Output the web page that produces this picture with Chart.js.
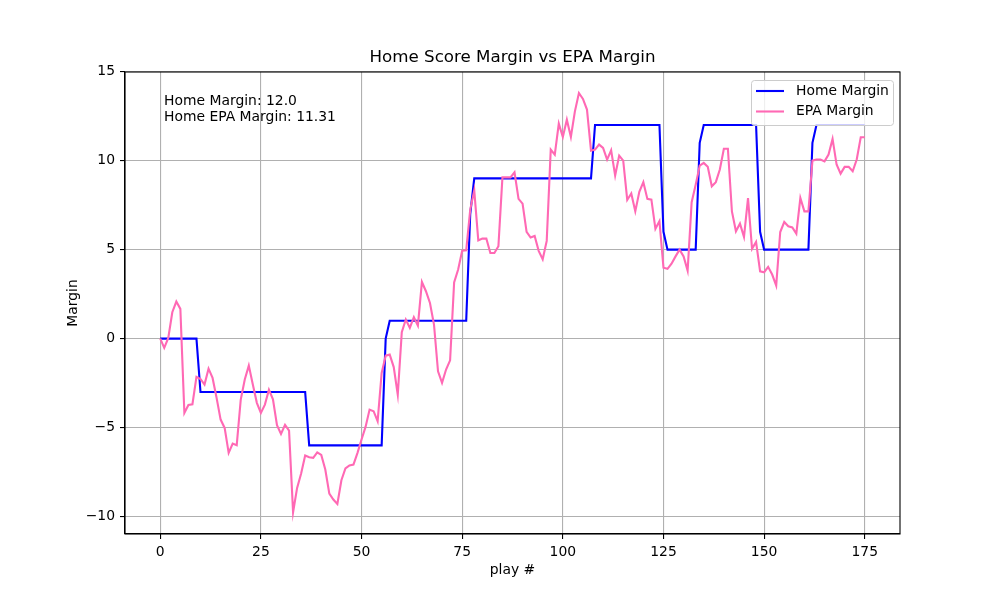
<!DOCTYPE html>
<html>
<head>
<meta charset="utf-8">
<script src="https://cdn.jsdelivr.net/npm/chart.js@4"></script>
<style>
  html, body { margin: 0; padding: 0; background: #fff; }
  #wrap { width: 1000px; height: 600px; }
</style>
</head>
<body>
<div id="wrap"><canvas id="chart" width="1000" height="600"></canvas></div>
<script>
// home score margin after each play
const homeMargin = [
  0, 0, 0, 0, 0, 0, 0, 0, 0, 0,
  -3, -3, -3, -3, -3, -3, -3, -3, -3, -3, -3, -3, -3, -3, -3, -3, -3, -3, -3, -3, -3, -3, -3, -3, -3, -3, -3,
  -6, -6, -6, -6, -6, -6, -6, -6, -6, -6, -6, -6, -6, -6, -6, -6, -6, -6, -6,
  0,
  1, 1, 1, 1, 1, 1, 1, 1, 1, 1, 1, 1, 1, 1, 1, 1, 1, 1, 1, 1,
  7,
  9, 9, 9, 9, 9, 9, 9, 9, 9, 9, 9, 9, 9, 9, 9, 9, 9, 9, 9, 9, 9, 9, 9, 9, 9, 9, 9, 9, 9, 9,
  12, 12, 12, 12, 12, 12, 12, 12, 12, 12, 12, 12, 12, 12, 12, 12, 12,
  6,
  5, 5, 5, 5, 5, 5, 5, 5,
  11,
  12, 12, 12, 12, 12, 12, 12, 12, 12, 12, 12, 12, 12, 12,
  6,
  5, 5, 5, 5, 5, 5, 5, 5, 5, 5, 5, 5,
  11,
  12, 12, 12, 12, 12, 12, 12, 12, 12, 12, 12, 12, 12
];

// cumulative EPA margin after each play
const epaMargin = [
  0, -0.52, 0.04, 1.48, 2.08, 1.67, -4.18, -3.73, -3.69, -2.15,
  -2.27, -2.58, -1.69, -2.21, -3.33, -4.55, -5.02, -6.42, -5.9, -5.99,
  -3.43, -2.3, -1.52, -2.58, -3.61, -4.18, -3.71, -2.87, -3.41, -4.86,
  -5.36, -4.85, -5.17, -9.76, -8.39, -7.58, -6.57, -6.67, -6.7, -6.39,
  -6.54, -7.36, -8.71, -9.04, -9.29, -7.96, -7.3, -7.13, -7.08, -6.42,
  -5.67, -4.96, -3.99, -4.08, -4.64, -1.93, -0.96, -0.9, -1.6, -3.15,
  0.36, 1.07, 0.6, 1.2, 0.73, 3.18, 2.66, 2.0, 0.79, -1.84,
  -2.49, -1.74, -1.22, 3.16, 3.88, 4.94, 4.96, 7.25, 8.33, 5.52,
  5.62, 5.62, 4.81, 4.81, 5.19, 9.06, 9.06, 9.06, 9.34, 7.85,
  7.58, 6.0, 5.68, 5.77, 4.93, 4.46, 5.49, 10.62, 10.34, 12.08,
  11.33, 12.3, 11.33, 12.77, 13.8, 13.47, 12.87, 10.56, 10.62, 10.9,
  10.71, 10.06, 10.58, 9.16, 10.28, 10.0, 7.79, 8.15, 7.15, 8.25,
  8.79, 7.85, 7.81, 6.17, 6.6, 3.98, 3.92, 4.21, 4.62, 5.0,
  4.62, 3.82, 7.66, 8.65, 9.72, 9.87, 9.65, 8.56, 8.79, 9.5,
  10.67, 10.67, 7.15, 6.03, 6.46, 5.71, 7.9, 5.04, 5.43, 3.78,
  3.73, 4.03, 3.6, 2.98, 5.99, 6.55, 6.31, 6.25, 5.9, 7.9,
  7.15, 7.15, 10.0, 10.06, 10.06, 9.96, 10.34, 11.22, 9.78, 9.27,
  9.65, 9.65, 9.4, 10.06, 11.31, 11.31
];

const xTicks = [0, 25, 50, 75, 100, 125, 150, 175];
const yTicks = [-10, -5, 0, 5, 10, 15];

const plays = homeMargin.map((_, i) => i);

const FONT = "'DejaVu Sans', sans-serif";

// title, annotation text, legend and top/right spines (matplotlib look)
const extras = {
  id: 'extras',
  afterDraw(chart) {
    const ctx = chart.ctx;
    const a = chart.chartArea;
    ctx.save();
    ctx.strokeStyle = '#000';
    ctx.lineWidth = 1.1;
    ctx.strokeRect(a.left, a.top, a.right - a.left, a.bottom - a.top);

    ctx.fillStyle = '#000';
    ctx.font = '16.7px ' + FONT;
    ctx.textAlign = 'center';
    ctx.textBaseline = 'middle';
    ctx.fillText('Home Score Margin vs EPA Margin', (a.left + a.right) / 2, 58);

    ctx.font = '13.9px ' + FONT;
    ctx.textAlign = 'left';
    ctx.fillText('Home Margin: ' + homeMargin[homeMargin.length - 1].toFixed(1), 164, 101);
    ctx.fillText('Home EPA Margin: ' + epaMargin[epaMargin.length - 1].toFixed(2), 164, 117);

    // legend
    ctx.fillStyle = 'rgba(255,255,255,0.8)';
    ctx.strokeStyle = '#cccccc';
    ctx.lineWidth = 1;
    ctx.beginPath();
    ctx.roundRect(751.5, 80.5, 142, 45, 3);
    ctx.fill();
    ctx.stroke();
    const items = [['Home Margin', '#0000ff', 91], ['EPA Margin', '#ff69b4', 111.5]];
    items.forEach(([label, color, y]) => {
      ctx.strokeStyle = color;
      ctx.lineWidth = 2.1;
      ctx.beginPath();
      ctx.moveTo(756, y);
      ctx.lineTo(784, y);
      ctx.stroke();
      ctx.fillStyle = '#000';
      ctx.fillText(label, 796, y);
    });
    ctx.restore();
  }
};

new Chart(document.getElementById('chart'), {
  type: 'line',
  data: {
    labels: plays,
    datasets: [
      {
        label: 'Home Margin',
        data: homeMargin,
        borderColor: '#0000ff',
        borderWidth: 2.1,
        pointRadius: 0,
        tension: 0,
        order: 1
      },
      {
        label: 'EPA Margin',
        data: epaMargin,
        borderColor: '#ff69b4',
        borderWidth: 2.1,
        pointRadius: 0,
        tension: 0,
        order: 0
      }
    ]
  },
  options: {
    responsive: false,
    animation: false,
    layout: { padding: { left: 0, right: 100, top: 72, bottom: 0 } },
    plugins: {
      legend: { display: false },
      tooltip: { enabled: false },
      title: { display: false }
    },
    scales: {
      x: {
        type: 'linear',
        min: -8.75,
        max: 183.75,
        afterBuildTicks: (s) => { s.ticks = xTicks.map(v => ({ value: v })); },
        afterFit: (s) => { s.height = 66; },
        grid: { color: '#b0b0b0', lineWidth: 1.1, tickColor: '#000', tickLength: 5, tickWidth: 1.1 },
        border: { display: true, color: '#000', width: 1.1 },
        ticks: { color: '#000', font: { family: FONT, size: 13.9 }, padding: 5, maxRotation: 0 },
        title: { display: true, text: 'play #', color: '#000', font: { family: FONT, size: 13.9 }, padding: { top: 0, bottom: 21.7 } }
      },
      y: {
        min: -10.98,
        max: 14.98,
        afterBuildTicks: (s) => { s.ticks = yTicks.map(v => ({ value: v })); },
        afterFit: (s) => { s.width = 125; },
        grid: { color: '#b0b0b0', lineWidth: 1.1, tickColor: '#000', tickLength: 5, tickWidth: 1.1 },
        border: { display: true, color: '#000', width: 1.1 },
        ticks: {
          color: '#000',
          font: { family: FONT, size: 13.9 },
          padding: 5,
          callback: (v) => String(v).replace('-', '\u2212')
        },
        title: { display: true, text: 'Margin', color: '#000', font: { family: FONT, size: 13.9 }, padding: { top: 64.7, bottom: 0 } }
      }
    }
  },
  plugins: [extras]
});
</script>
</body>
</html>
